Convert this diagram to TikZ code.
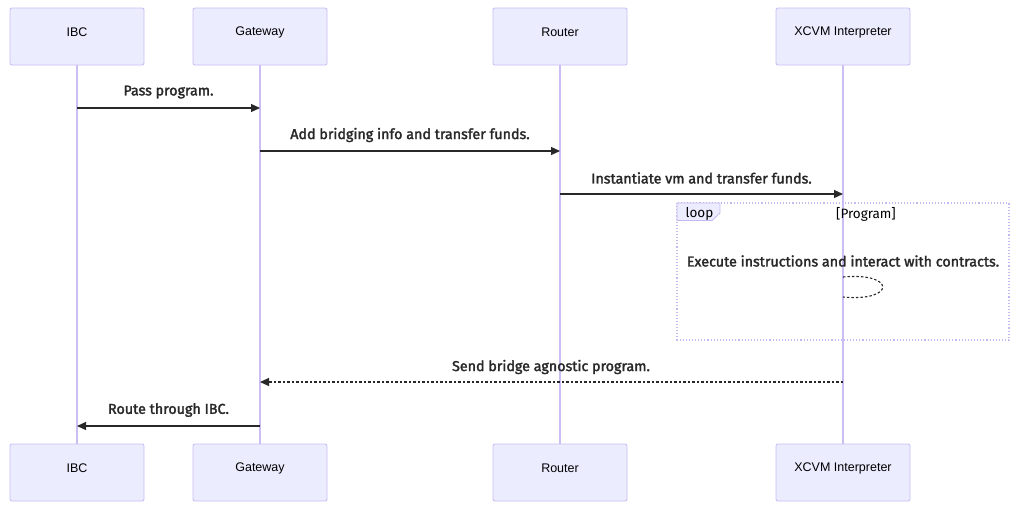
\documentclass[tikz,border=0pt]{standalone}
\usepackage{fontspec}
\setmainfont{Liberation Sans}
\newfontfamily\msgfont{Fira Sans}[FakeBold=2]
\newfontfamily\lblfont{Fira Sans}
\usetikzlibrary{arrows.meta}
\definecolor{actfill}{RGB}{236,236,255}
\definecolor{actdraw}{RGB}{200,192,245}
\definecolor{lifecol}{RGB}{204,190,245}
\definecolor{loopcol}{RGB}{196,184,240}
\definecolor{ink}{RGB}{40,40,40}
\begin{document}
\begin{tikzpicture}[x=1pt,y=-1pt,
  actor/.style={draw=actdraw,fill=actfill,rounded corners=2pt,minimum width=134pt,minimum height=57pt,inner sep=0pt,line width=0.9pt},
  actlbl/.style={font=\fontsize{12.5}{14}\selectfont,text=black,inner sep=0pt},
  lifeline/.style={draw=lifecol,line width=1.4pt},
  msg/.style={draw=ink,line width=1.1pt,-{Triangle[length=9pt,width=8pt]}},
  msgtext/.style={font=\msgfont\fontsize{14.3}{16}\selectfont,text=ink,inner sep=0pt}]
\useasboundingbox (0,0) rectangle (1024,520);
\fill[white] (0,0) rectangle (1024,520);
% lifelines
\foreach \x in {77,260,560,843}{
  \draw[lifeline] (\x,65) -- (\x,444);
}
% actors top
\node[actor] (ibcT) at (77,36.5) {};
\node[actor] (gwT) at (260,36.5) {};
\node[actor] (rtT) at (560,36.5) {};
\node[actor] (vmT) at (843,36.5) {};
\node[actlbl] (ibcTl) at (77,32) {IBC};
\node[actlbl] (gwTl) at (260,32) {Gateway};
\node[actlbl] (rtTl) at (560,32) {Router};
\node[actlbl] (vmTl) at (843,32) {XCVM Interpreter};
% actors bottom
\node[actor] (ibcB) at (77,472.5) {};
\node[actor] (gwB) at (260,472.5) {};
\node[actor] (rtB) at (560,472.5) {};
\node[actor] (vmB) at (843,472.5) {};
\node[actlbl] (ibcBl) at (77,468) {IBC};
\node[actlbl] (gwBl) at (260,468) {Gateway};
\node[actlbl] (rtBl) at (560,468) {Router};
\node[actlbl] (vmBl) at (843,468) {XCVM Interpreter};
% coordinates on lifelines
\coordinate (a1) at (77,108); \coordinate (b1) at (260,108);
\coordinate (a2) at (260,151); \coordinate (b2) at (560,151);
\coordinate (a3) at (560,194); \coordinate (b3) at (843,194);
\coordinate (a4) at (843,382); \coordinate (b4) at (260,382);
\coordinate (a5) at (260,426); \coordinate (b5) at (77,426);
\coordinate (s1) at (843,277); \coordinate (s2) at (843,297);
% messages
\node[msgtext] (t1) at (168.5,92) {Pass program.};
\draw[msg] (a1) -- (b1);
\node[msgtext] (t2) at (410,135) {Add bridging info and transfer funds.};
\draw[msg] (a2) -- (b2);
\node[msgtext] (t3) at (701.5,178) {Instantiate vm and transfer funds.};
\draw[msg] (a3) -- (b3);
% loop
\draw[loopcol,line width=1.1pt,dotted] (677,203) rectangle (1009,340);
\filldraw[draw=loopcol,fill=actfill,line width=0.8pt] (677,203) -- (720,203) -- (720,213) -- (712,220.5) -- (677,220.5) -- cycle;
\node[font=\lblfont\fontsize{13.5}{15}\selectfont,text=black,inner sep=0pt] (looplbl) at (699.5,214) {loop};
\node[font=\lblfont\fontsize{13.5}{15}\selectfont,text=black,inner sep=0pt] (cond) at (866,214.5) {[Program]};
\node[msgtext] (t4) at (843,261) {Execute instructions and interact with contracts.};
\draw[ink,line width=1.1pt,dash pattern=on 2.5pt off 2pt] (s1) .. controls (896,272) and (896,302) .. (s2);
% returns
\node[msgtext] (t5) at (551,367) {Send bridge agnostic program.};
\draw[msg,dash pattern=on 2.5pt off 2pt] (a4) -- (b4);
\node[msgtext] (t6) at (168.5,410) {Route through IBC.};
\draw[msg] (a5) -- (b5);
\end{tikzpicture}
\end{document}
